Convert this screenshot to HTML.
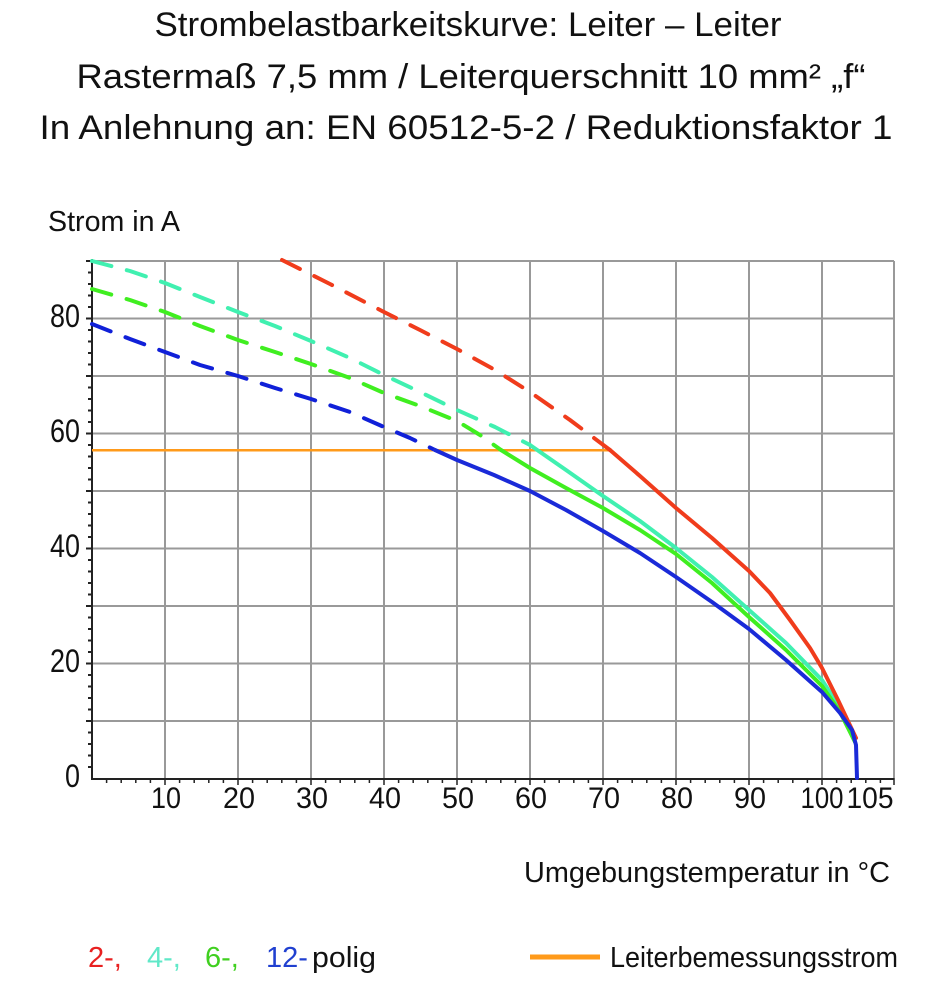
<!DOCTYPE html>
<html><head><meta charset="utf-8"><style>
html,body{margin:0;padding:0;background:#fff;}
svg{display:block;}
text{font-family:"Liberation Sans",sans-serif;fill:#111;}
</style></head><body>
<svg width="938" height="1000" viewBox="0 0 938 1000" xmlns="http://www.w3.org/2000/svg">
<text x="468" y="36" font-size="34" text-anchor="middle" textLength="627" lengthAdjust="spacingAndGlyphs">Strombelastbarkeitskurve: Leiter – Leiter</text>
<text x="471" y="88" font-size="34" text-anchor="middle" textLength="789" lengthAdjust="spacingAndGlyphs">Rastermaß 7,5 mm / Leiterquerschnitt 10 mm² „f“</text>
<text x="466" y="139" font-size="34" text-anchor="middle" textLength="853" lengthAdjust="spacingAndGlyphs">In Anlehnung an: EN 60512-5-2 / Reduktionsfaktor 1</text>
<text x="48" y="231" font-size="29" textLength="132" lengthAdjust="spacingAndGlyphs">Strom in A</text>

<g stroke="#999" stroke-width="2" fill="none">
<path d="M165 261V778M238 261V778M311 261V778M384 261V778M457 261V778M530 261V778M603 261V778M676 261V778M749 261V778M822 261V778M894 261V778"/>
<path d="M92 261H894M92 318.5H894M92 376H894M92 433.5H894M92 491H894M92 548.5H894M92 606H894M92 663.5H894M92 721H894"/>
</g>
<g stroke="#222" stroke-width="2" fill="none">
<path d="M92 259V779H894"/>
<path d="M86 261H92M88 272.5H92M88 284H92M88 295.5H92M88 307H92M86 318.5H92M88 330H92M88 341.5H92M88 353H92M88 364.5H92M86 376H92M88 387.5H92M88 399H92M88 410.5H92M88 422H92M86 433.5H92M88 445H92M88 456.5H92M88 468H92M88 479.5H92M86 491H92M88 502.5H92M88 514H92M88 525.5H92M88 537H92M86 548.5H92M88 560H92M88 571.5H92M88 583H92M88 594.5H92M86 606H92M88 617.5H92M88 629H92M88 640.5H92M88 652H92M86 663.5H92M88 675H92M88 686.5H92M88 698H92M88 709.5H92M86 721H92M88 732.5H92M88 744H92M88 755.5H92M88 767H92"/>
</g>
<path stroke="#222" stroke-width="1.5" fill="none" d="M106.6 778v5M121.2 778v5M135.8 778v5M150.4 778v5M165 778v7M179.6 778v5M194.2 778v5M208.8 778v5M223.4 778v5M238 778v7M252.6 778v5M267.2 778v5M281.8 778v5M296.4 778v5M311 778v7M325.6 778v5M340.2 778v5M354.8 778v5M369.4 778v5M384 778v7M398.6 778v5M413.2 778v5M427.8 778v5M442.4 778v5M457 778v7M471.6 778v5M486.2 778v5M500.8 778v5M515.4 778v5M530 778v7M544.6 778v5M559.2 778v5M573.8 778v5M588.4 778v5M603 778v7M617.6 778v5M632.2 778v5M646.8 778v5M661.4 778v5M676 778v7M690.6 778v5M705.2 778v5M719.8 778v5M734.4 778v5M749 778v7M763.6 778v5M778.2 778v5M792.8 778v5M807.4 778v5M822 778v7M836.6 778v5M851.2 778v5M865.8 778v5M880.4 778v5M894 778v7"/>

<g font-size="32">
<text x="80" y="327" text-anchor="end" textLength="30" lengthAdjust="spacingAndGlyphs">80</text>
<text x="80" y="442" text-anchor="end" textLength="30" lengthAdjust="spacingAndGlyphs">60</text>
<text x="80" y="557" text-anchor="end" textLength="30" lengthAdjust="spacingAndGlyphs">40</text>
<text x="80" y="672" text-anchor="end" textLength="30" lengthAdjust="spacingAndGlyphs">20</text>
<text x="80" y="787" text-anchor="end" textLength="15" lengthAdjust="spacingAndGlyphs">0</text>
</g>
<g font-size="30" text-anchor="middle">
<text x="166" y="808" textLength="30" lengthAdjust="spacingAndGlyphs">10</text>
<text x="239" y="808" textLength="32" lengthAdjust="spacingAndGlyphs">20</text>
<text x="312" y="808" textLength="32" lengthAdjust="spacingAndGlyphs">30</text>
<text x="385" y="808" textLength="32" lengthAdjust="spacingAndGlyphs">40</text>
<text x="458" y="808" textLength="32" lengthAdjust="spacingAndGlyphs">50</text>
<text x="531" y="808" textLength="32" lengthAdjust="spacingAndGlyphs">60</text>
<text x="604" y="808" textLength="32" lengthAdjust="spacingAndGlyphs">70</text>
<text x="677" y="808" textLength="32" lengthAdjust="spacingAndGlyphs">80</text>
<text x="750" y="808" textLength="32" lengthAdjust="spacingAndGlyphs">90</text>
<text x="822" y="808" textLength="43" lengthAdjust="spacingAndGlyphs">100</text>
<text x="870" y="808" textLength="47" lengthAdjust="spacingAndGlyphs">105</text>
</g>
<text x="524" y="882" font-size="29" textLength="366" lengthAdjust="spacingAndGlyphs">Umgebungstemperatur in °C</text>

<path d="M92 450.3H612" stroke="#ff9a1a" stroke-width="2.5" fill="none"/>
<g fill="none" stroke-width="4" stroke-dasharray="20 16" stroke-linecap="round" stroke-linejoin="round">
<path stroke="#f03c1c" d="M282 260L330 284L384 312L420 330L457 349L495 370L530 392L570 420L610 450"/>
<path stroke="#40f0b0" d="M92 261L130 271L165 283L200 297L238 312L275 326L311 341L350 358L384 375L420 392L457 410L495 427L530 445"/>
<path stroke="#40ee20" d="M92 289L130 300L165 312L200 326L238 340L275 352L311 364L350 378L384 393L420 406L457 421L480 435L501 450"/>
<path stroke="#1020d8" d="M92 324L130 339L165 352L200 365L238 376L275 388L311 399L350 412L384 427L410 438L435 450"/>
</g>
<g fill="none" stroke-width="4" stroke-linejoin="round" stroke-linecap="round">
<path stroke="#40f0b0" d="M530 445L566 470L603 496L640 521L676 548L712 577L749 610L786 643L822 680L840 708L855 738"/>
<path stroke="#40ee20" d="M501 450L530 468L566 488L603 508L640 530L676 554L712 583L749 617L786 650L822 686L840 712L855 742"/>
<path stroke="#f03c1c" d="M610 450L640 476L676 508L712 538L749 571L770 593L790 620L810 648L822 668L838 700L856 738"/>
<path stroke="#1a2ad8" d="M435 450L457 460L494 475L530 491L566 510L603 531L640 553L676 577L712 602L749 629L786 660L822 692L840 713L852 730L856 745L857 778"/>
</g>

<g font-size="29">
<text x="88" y="967" style="fill:#e82020">2-,</text>
<text x="147" y="967" style="fill:#60e8c8">4-,</text>
<text x="205" y="967" style="fill:#40d020">6-,</text>
<text x="266" y="967" style="fill:#2040d0">12-</text>
<text x="312" y="967" textLength="64" lengthAdjust="spacingAndGlyphs">polig</text>
<text x="610" y="967" textLength="288" lengthAdjust="spacingAndGlyphs">Leiterbemessungsstrom</text>
</g>
<path d="M530 957H600" stroke="#ff9a1a" stroke-width="5"/>
</svg>
</body></html>
